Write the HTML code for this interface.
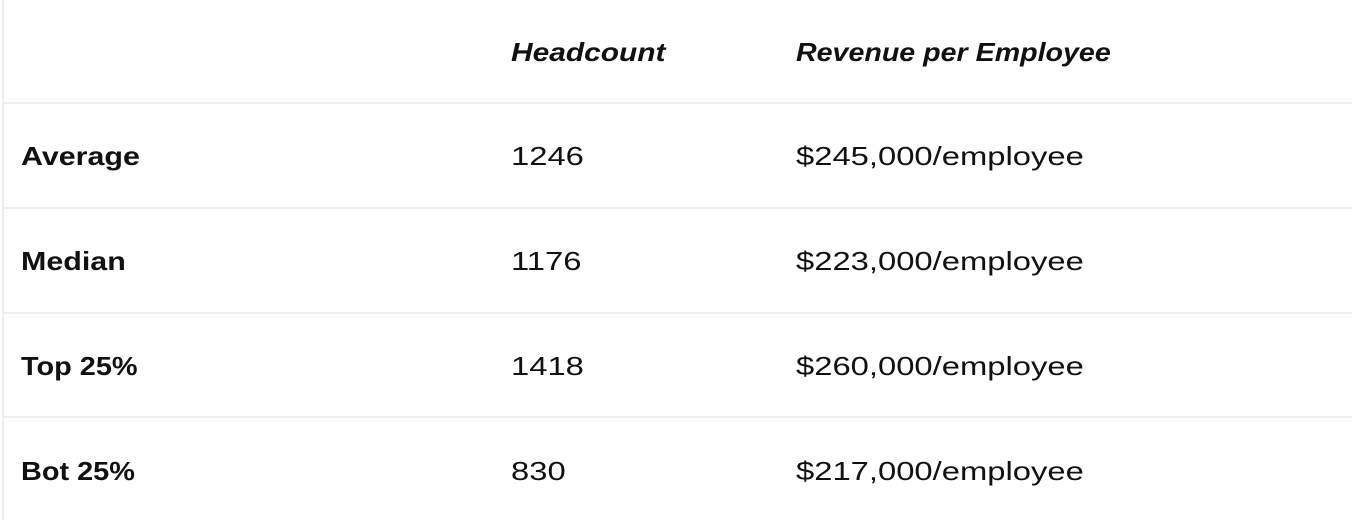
<!DOCTYPE html>
<html><head><style>
html,body{margin:0;padding:0;background:#fff;width:1352px;height:520px;overflow:hidden;font-family:"Liberation Sans",sans-serif;color:#111;}
.bl{position:absolute;left:2px;top:0;width:2px;height:520px;background:#eee;}
.hl{position:absolute;left:2px;width:1350px;height:2px;background:#eee;}
.t{position:absolute;font-size:26px;line-height:30px;white-space:nowrap;transform-origin:0 50%;transform:scaleX(1.26);}
.h{font-style:italic;font-weight:bold;transform:scaleX(1.12);}
.b{font-weight:bold;transform:scaleX(1.17);}
</style></head><body>
<div class="bl"></div>
<div class="hl" style="top:102px"></div>
<div class="hl" style="top:207px"></div>
<div class="hl" style="top:312px"></div>
<div class="hl" style="top:416px"></div>
<div class="t h" style="left:511px;top:37px;transform:scaleX(1.15)">Headcount</div>
<div class="t h" style="left:796px;top:37px;transform:scaleX(1.10)">Revenue per Employee</div>
<div class="t b" style="left:21px;top:141px">Average</div>
<div class="t" style="left:511px;top:141px">1246</div>
<div class="t" style="left:796px;top:141px">$245,000/employee</div>
<div class="t b" style="left:21px;top:246px">Median</div>
<div class="t" style="left:511px;top:246px">1176</div>
<div class="t" style="left:796px;top:246px">$223,000/employee</div>
<div class="t b" style="left:21px;top:351px;transform:scaleX(1.11)">Top 25%</div>
<div class="t" style="left:511px;top:351px">1418</div>
<div class="t" style="left:796px;top:351px">$260,000/employee</div>
<div class="t b" style="left:21px;top:456px;transform:scaleX(1.11)">Bot 25%</div>
<div class="t" style="left:511px;top:456px">830</div>
<div class="t" style="left:796px;top:456px">$217,000/employee</div>
</body></html>
